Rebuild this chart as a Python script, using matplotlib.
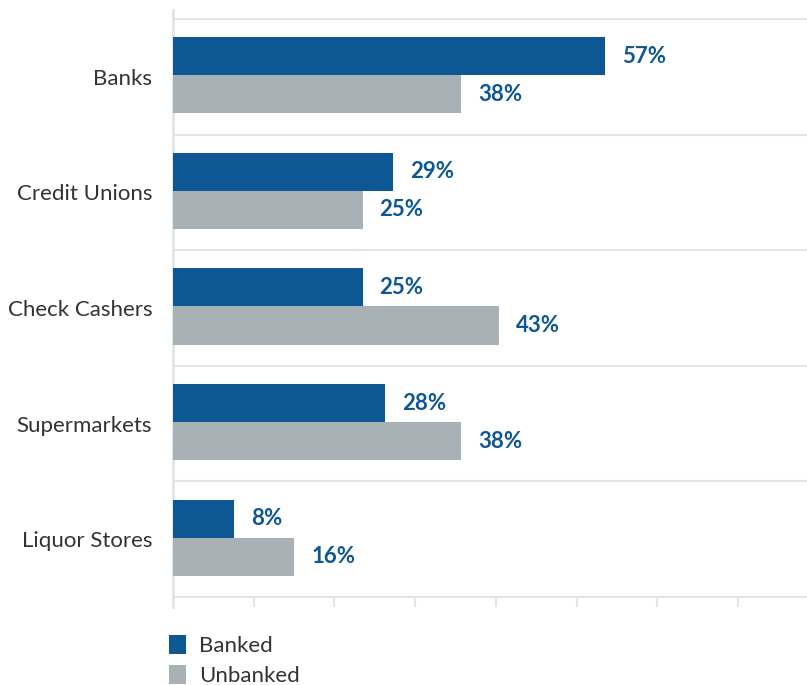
import matplotlib
matplotlib.use('Agg')
import matplotlib.pyplot as plt
from matplotlib.patches import Patch
import numpy as np

# data
categories = ['Banks', 'Credit Unions', 'Check Cashers', 'Supermarkets', 'Liquor Stores']
banked = [57, 29, 25, 28, 8]
unbanked = [38, 25, 43, 38, 16]
series_names = ['Banked', 'Unbanked']

BLUE = '#0e5795'
GRAY = '#a7b1b6'
GRID = '#dfe5e8'
TEXT = '#333333'

plt.rcParams['font.family'] = ['Lato', 'DejaVu Sans']

fig = plt.figure(figsize=(8.07, 6.85), dpi=100)
W, H = 807, 685
# axes spans from spine top (y=10) to tick bottom (y=607) in pixels
ax = fig.add_axes([173 / W, 1 - 607 / H, 1 - 173 / W, (607 - 10) / H])

y = np.arange(len(categories))
bar_h = 0.33
off = 0.013
ax.barh(y - off - bar_h / 2, banked, height=bar_h, color=BLUE, zorder=3)
ax.barh(y - off + bar_h / 2, unbanked, height=bar_h, color=GRAY, zorder=3)

px_per_unit_x = 7.58
xmax = (W - 173) / px_per_unit_x
pad = 17 / px_per_unit_x
for yi, b, u in zip(y, banked, unbanked):
    ax.text(b + pad, yi - off - bar_h / 2, f'{b}%', va='center', ha='left',
            color=BLUE, fontsize=16, fontweight='bold')
    ax.text(u + pad, yi - off + bar_h / 2, f'{u}%', va='center', ha='left',
            color=BLUE, fontsize=16, fontweight='bold')

# y limits: gridlines at band edges, little extra for spine/ticks
ppu_y = (597 - 19) / len(categories)
ax.set_ylim(len(categories) - 0.5 + 10 / ppu_y, -0.5 - 9 / ppu_y)
ax.set_xlim(0, xmax)

# horizontal gridlines at category boundaries
for edge in np.arange(-0.5, len(categories), 1.0):
    ax.axhline(edge, color=GRID, lw=1.5, zorder=1)

# short tick marks below the bottom gridline
tick_step = 80.7 / px_per_unit_x
ticks = np.arange(8) * tick_step
ax.vlines(ticks[1:], len(categories) - 0.5, len(categories) - 0.5 + 10 / ppu_y,
          color=GRID, lw=1.5, zorder=1)

for s in ['top', 'right', 'bottom']:
    ax.spines[s].set_visible(False)
ax.spines['left'].set_color(GRID)
ax.spines['left'].set_linewidth(2)

ax.set_xticks([])
ax.set_yticks(y)
ax.set_yticklabels(categories, fontsize=16, color=TEXT)
ax.tick_params(axis='y', length=0, pad=15)

handles = [Patch(facecolor=BLUE, label=series_names[0]),
           Patch(facecolor=GRAY, label=series_names[1])]
leg = fig.legend(handles=handles, loc='upper left',
                 bbox_to_anchor=(160 / W, 1 - 626 / H), frameon=False,
                 fontsize=16, handlelength=0.75, handleheight=0.95,
                 handletextpad=0.6, labelspacing=0.4, borderaxespad=0)
for t in leg.get_texts():
    t.set_color(TEXT)

fig.savefig('out.png', dpi=100)
